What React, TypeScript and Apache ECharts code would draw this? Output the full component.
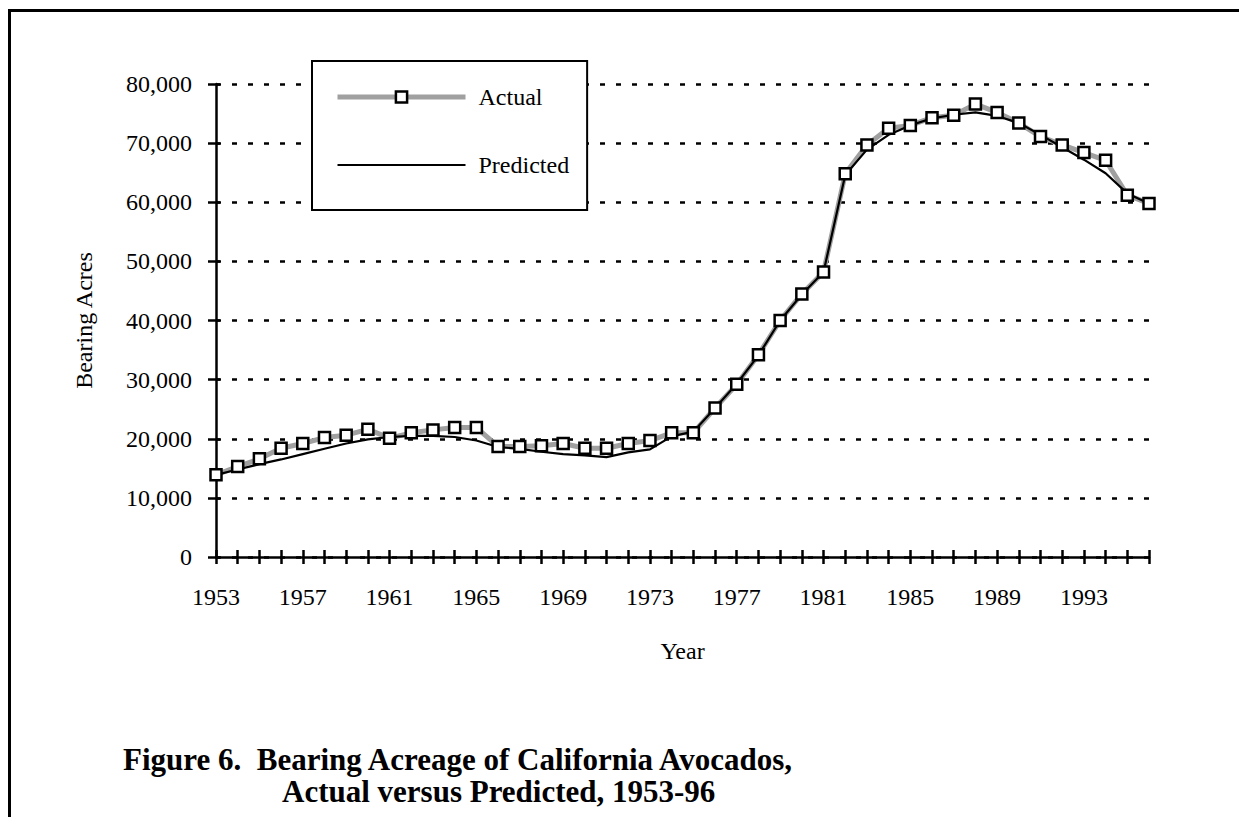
import React, { useEffect, useRef } from 'react';
import * as echarts from 'echarts';

const years: string[] = [
  '1953', '1954', '1955', '1956', '1957', '1958', '1959', '1960', '1961', '1962',
  '1963', '1964', '1965', '1966', '1967', '1968', '1969', '1970', '1971', '1972',
  '1973', '1974', '1975', '1976', '1977', '1978', '1979', '1980', '1981', '1982',
  '1983', '1984', '1985', '1986', '1987', '1988', '1989', '1990', '1991', '1992',
  '1993', '1994', '1995', '1996',
];

const actualAcres: number[] = [
  13900, 15300, 16600, 18400, 19200, 20200, 20600, 21600, 20100, 21000,
  21500, 21900, 21900, 18700, 18700, 18800, 19200, 18400, 18400, 19200,
  19700, 21000, 21000, 25200, 29200, 34200, 40000, 44500, 48200, 64800,
  69700, 72500, 73000, 74300, 74700, 76600, 75200, 73400, 71100, 69700,
  68400, 67100, 61200, 59800,
];

const predictedAcres: number[] = [
  13900, 14800, 15700, 16500, 17400, 18300, 19200, 19900, 20300, 20500,
  20500, 20300, 19700, 18600, 18300, 17800, 17400, 17200, 16900, 17700,
  18200, 20400, 21200, 25200, 29300, 34100, 40000, 44400, 48200, 64600,
  68900, 71400, 73000, 74200, 74800, 75200, 74600, 73400, 71400, 69300,
  67200, 64900, 61500, 59800,
];

const yMin = 0;
const yMax = 80000;
const yStep = 10000;

const titleLine1 = 'Figure 6.  Bearing Acreage of California Avocados,';
const titleLine2 = 'Actual versus Predicted, 1953-96';

const FONT = '"Liberation Serif", "Times New Roman", Times, serif';

export default function App() {
  const ref = useRef<HTMLDivElement>(null);

  useEffect(() => {
    if (!ref.current) return;
    const chart = echarts.init(ref.current, undefined, { renderer: 'svg' });
    const axisColor = '#000';
    const titleStyle = { fontFamily: FONT, fontSize: 31, fontWeight: 'bold', color: '#000', lineHeight: 31 };
    const option: any = {
      animation: false,
      backgroundColor: '#fff',
      textStyle: { fontFamily: FONT, color: '#000' },
      title: [
        { text: titleLine1, left: 123, top: 744, padding: 0, textStyle: titleStyle },
        { text: titleLine2, left: 282, top: 776, padding: 0, textStyle: titleStyle },
      ],
      graphic: [
        { type: 'line', shape: { x1: 8, y1: 10.5, x2: 1239, y2: 10.5 }, style: { stroke: '#000', lineWidth: 3 } },
        { type: 'line', shape: { x1: 9.5, y1: 9, x2: 9.5, y2: 817 }, style: { stroke: '#000', lineWidth: 3 } },
      ],
      legend: {
        orient: 'vertical',
        left: 312,
        top: 61,
        padding: [24, 18, 33, 23],
        itemGap: 44,
        itemWidth: 128,
        itemHeight: 14,
        backgroundColor: '#fff',
        borderColor: '#000',
        borderWidth: 2,
        borderRadius: 0,
        selectedMode: false,
        textStyle: { fontFamily: FONT, fontSize: 24, color: '#000', padding: [0, 0, 0, 8] },
        data: [
          {
            name: 'Actual',
            itemStyle: { color: '#fff', borderColor: '#000', borderWidth: 2.5 },
            lineStyle: { color: '#a0a0a0', width: 5 },
          },
          {
            name: 'Predicted',
            itemStyle: { color: 'rgba(0,0,0,0)', borderColor: 'rgba(0,0,0,0)', borderWidth: 0 },
            lineStyle: { color: '#000', width: 2.2 },
          },
        ],
      },
      grid: { left: 216, right: 90, top: 84, bottom: 260, containLabel: false },
      xAxis: [
        {
          type: 'category',
          data: years,
          boundaryGap: false,
          position: 'bottom',
          axisLine: { show: true, lineStyle: { color: axisColor, width: 2.5 } },
          axisTick: { show: true, interval: 0, length: 7, lineStyle: { color: axisColor, width: 2.5 } },
          axisLabel: { interval: 3, margin: 28, fontSize: 24, color: '#000', fontFamily: FONT },
          splitLine: { show: false },
          name: 'Year',
          nameLocation: 'middle',
          nameGap: 82,
          nameTextStyle: { fontSize: 24, color: '#000', fontFamily: FONT },
        },
        {
          type: 'category',
          data: years,
          boundaryGap: false,
          position: 'bottom',
          offset: 0,
          axisLine: { show: false },
          axisTick: { show: true, inside: true, interval: 0, length: 7, lineStyle: { color: axisColor, width: 2.5 } },
          axisLabel: { show: false },
          splitLine: { show: false },
        },
      ],
      yAxis: [
        {
          type: 'value',
          min: yMin,
          max: yMax,
          interval: yStep,
          position: 'left',
          axisLine: { show: true, lineStyle: { color: axisColor, width: 2.5 } },
          axisTick: { show: true, length: 8, lineStyle: { color: axisColor, width: 2.5 } },
          axisLabel: {
            margin: 24,
            fontSize: 24,
            color: '#000',
            fontFamily: FONT,
            formatter: (v: number) => v.toLocaleString('en-US'),
          },
          splitLine: { show: true, lineStyle: { color: '#000', width: 2.5, type: [5, 11] } },
          name: 'Bearing Acres',
          nameLocation: 'middle',
          nameRotate: 90,
          nameGap: 120,
          nameTextStyle: { fontSize: 24, color: '#000', fontFamily: FONT },
        },
        {
          type: 'value',
          min: yMin,
          max: yMax,
          interval: yStep,
          position: 'left',
          offset: 0,
          axisLine: { show: false },
          axisTick: { show: true, inside: true, length: 4, lineStyle: { color: axisColor, width: 2.5 } },
          axisLabel: { show: false },
          splitLine: { show: false },
        },
      ],
      series: [
        {
          name: 'Actual',
          type: 'line',
          data: actualAcres,
          symbol: 'rect',
          showSymbol: false,
          symbolSize: 11,
          itemStyle: { color: '#fff', borderColor: '#000', borderWidth: 2.5 },
          lineStyle: { color: '#a0a0a0', width: 5 },
          z: 2,
        },
        {
          name: 'Predicted',
          type: 'line',
          data: predictedAcres,
          symbol: 'none',
          itemStyle: { color: '#000' },
          lineStyle: { color: '#000', width: 2.2 },
          z: 3,
        },
        {
          name: 'Actual markers',
          type: 'scatter',
          data: actualAcres,
          symbol: 'rect',
          symbolSize: 11,
          itemStyle: { color: '#fff', borderColor: '#000', borderWidth: 2.5, opacity: 1 },
          z: 4,
        },
      ],
    };
    chart.setOption(option);
    return () => chart.dispose();
  }, []);

  return (
    <div
      ref={ref}
      style={{ position: 'fixed', left: 0, top: 0, width: 1239, height: 817, background: '#fff' }}
    />
  );
}
